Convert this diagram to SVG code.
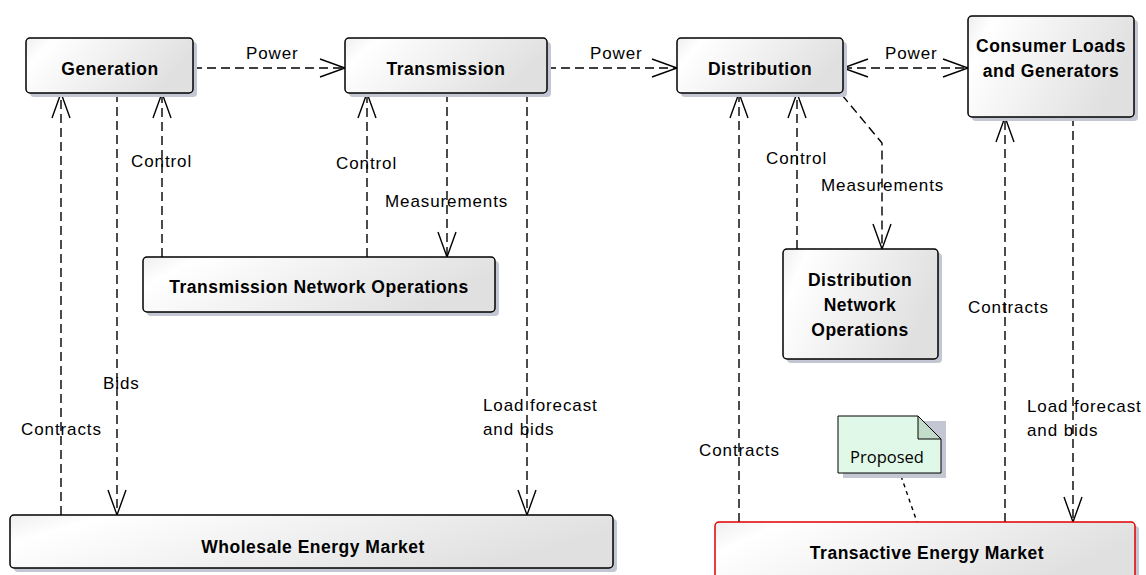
<svg xmlns="http://www.w3.org/2000/svg" width="1146" height="575" viewBox="0 0 1146 575">
<style>
.box{stroke:#000;stroke-width:1.5;fill:url(#g)}
.sh{fill:#c3c7d3}
.bt{font-family:"Liberation Sans",Arial,sans-serif;font-weight:bold;font-size:17.5px;letter-spacing:0.5px;text-anchor:middle;fill:#000}
.lb{font-family:"Liberation Sans",Arial,sans-serif;font-size:17px;letter-spacing:0.9px;fill:#000}
.c{stroke:#000;stroke-width:1.4;stroke-dasharray:9,5;fill:none}
</style>
<defs>
<linearGradient id="g" x1="0" y1="0" x2="1" y2="0.3">
<stop offset="0" stop-color="#efefef"/>
<stop offset="0.15" stop-color="#ffffff"/>
<stop offset="1" stop-color="#e0e0e0"/>
</linearGradient>
<marker id="a" markerUnits="userSpaceOnUse" markerWidth="32" markerHeight="24" viewBox="-28 -12 32 24" refX="0" refY="0" orient="auto-start-reverse">
<path d="M-25,-9 L0,0 L-25,9" fill="none" stroke="#000" stroke-width="1.4"/>
</marker>
</defs>

<g id="connectors">
<path class="c" d="M193,68 H345" marker-end="url(#a)"/>
<path class="c" d="M547,68 H677" marker-end="url(#a)"/>
<path class="c" d="M843,68 H968" marker-start="url(#a)" marker-end="url(#a)"/>
<path class="c" d="M61,515 V93" marker-end="url(#a)"/>
<path class="c" d="M117,93 V515" marker-end="url(#a)"/>
<path class="c" d="M162,257 V93" marker-end="url(#a)"/>
<path class="c" d="M367,257 V93" marker-end="url(#a)"/>
<path class="c" d="M447,93 V257" marker-end="url(#a)"/>
<path class="c" d="M527,93 V515" marker-end="url(#a)"/>
<path class="c" d="M739,522 V93" marker-end="url(#a)"/>
<path class="c" d="M797,249 V93" marker-end="url(#a)"/>
<path class="c" d="M842,95 L882,143 V249" marker-end="url(#a)"/>
<path class="c" d="M1005,522 V117" marker-end="url(#a)"/>
<path class="c" d="M1073,117 V522" marker-end="url(#a)"/>
<path d="M901,476 L917,522" stroke="#000" stroke-width="1.4" stroke-dasharray="4,4" fill="none"/>
<text class="lb" x="246" y="59">Power</text>
<text class="lb" x="590" y="59">Power</text>
<text class="lb" x="885" y="59">Power</text>
<text class="lb" x="131" y="167">Control</text>
<text class="lb" x="336" y="169">Control</text>
<text class="lb" x="385" y="207">Measurements</text>
<text class="lb" x="103" y="389">Bids</text>
<text class="lb" x="21" y="435">Contracts</text>
<text class="lb" x="483" y="411">Load forecast</text>
<text class="lb" x="483" y="435">and bids</text>
<text class="lb" x="766" y="164">Control</text>
<text class="lb" x="821" y="191">Measurements</text>
<text class="lb" x="968" y="313">Contracts</text>
<text class="lb" x="699" y="456">Contracts</text>
<text class="lb" x="1027" y="412">Load forecast</text>
<text class="lb" x="1027" y="436">and bids</text>
</g>

<g id="generation">
<rect class="sh" x="30" y="42" width="167" height="55" rx="4"/>
<rect class="box" x="26" y="38" width="167" height="55" rx="4"/>
<text class="bt" x="110" y="75">Generation</text>
</g>
<g id="transmission">
<rect class="sh" x="349" y="42" width="202" height="55" rx="4"/>
<rect class="box" x="345" y="38" width="202" height="55" rx="4"/>
<text class="bt" x="446" y="75">Transmission</text>
</g>
<g id="distribution">
<rect class="sh" x="681" y="42" width="166" height="55" rx="4"/>
<rect class="box" x="677" y="38" width="166" height="55" rx="4"/>
<text class="bt" x="760" y="75">Distribution</text>
</g>
<g id="consumer">
<rect class="sh" x="972" y="20" width="166" height="101" rx="4"/>
<rect class="box" x="968" y="16" width="166" height="101" rx="4"/>
<text class="bt" x="1051" y="52">Consumer Loads</text>
<text class="bt" x="1051" y="77">and Generators</text>
</g>
<g id="tno">
<rect class="sh" x="147" y="261" width="352" height="55" rx="4"/>
<rect class="box" x="143" y="257" width="352" height="55" rx="4"/>
<text class="bt" x="319" y="293">Transmission Network Operations</text>
</g>
<g id="dno">
<rect class="sh" x="787" y="253" width="155" height="110" rx="4"/>
<rect class="box" x="783" y="249" width="155" height="110" rx="4"/>
<text class="bt" x="860" y="286">Distribution</text>
<text class="bt" x="860" y="311">Network</text>
<text class="bt" x="860" y="336">Operations</text>
</g>
<g id="wholesale">
<rect class="sh" x="14" y="519" width="603" height="53" rx="4"/>
<rect class="box" x="10" y="515" width="603" height="53" rx="4"/>
<text class="bt" x="313" y="553">Wholesale Energy Market</text>
</g>
<g id="transactive">
<rect class="sh" x="719" y="526" width="420" height="60" rx="4"/>
<rect class="box" x="715" y="522" width="420" height="60" rx="4" style="stroke:#e00000"/>
<text class="bt" x="927" y="559">Transactive Energy Market</text>
</g>
<g id="note">
<path d="M843,421 H946 V478 H843 Z" fill="#c3c7d3"/>
<path d="M838,416 H918 L941,439 V473 H838 Z" fill="#e0f8e8" stroke="#000" stroke-width="1"/>
<path d="M918,416 V439 H941 Z" fill="#c2dcc9" stroke="#000" stroke-width="1"/>
<text x="887" y="463" style="font-family:'Open Sans','Noto Sans',sans-serif;font-size:16.5px;text-anchor:middle;fill:#000">Proposed</text>
</g>
</svg>
